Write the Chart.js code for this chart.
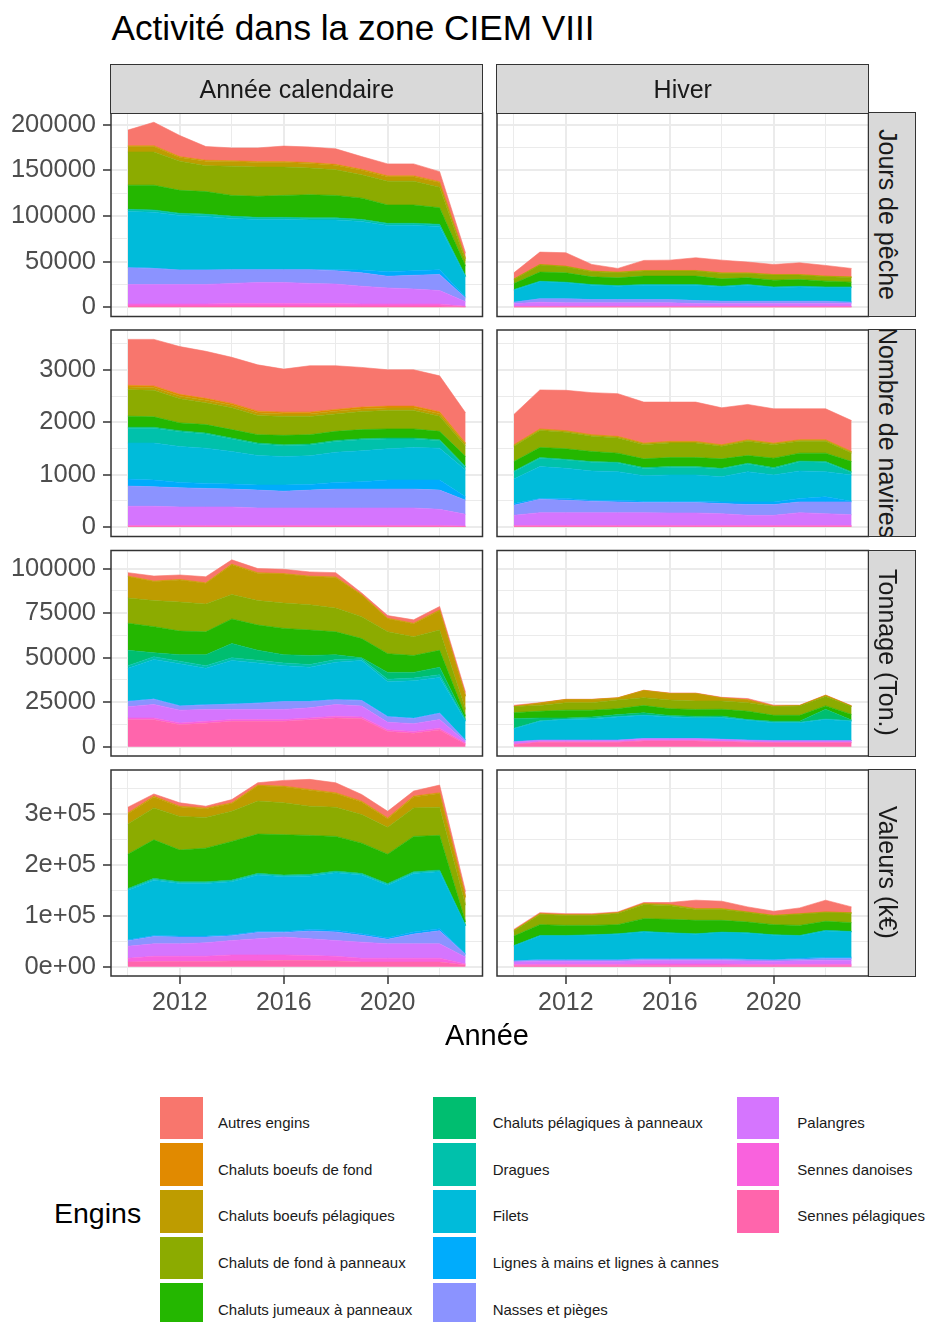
<!DOCTYPE html>
<html lang="fr">
<head>
<meta charset="utf-8">
<title>Activité dans la zone CIEM VIII</title>
<script src="https://cdn.jsdelivr.net/npm/chart.js@4.4.1/dist/chart.umd.min.js"></script>
<style>
  html, body { margin: 0; padding: 0; background: #fff; }
  body { width: 926px; height: 1322px; position: relative; overflow: hidden;
         font-family: "Liberation Sans", Arial, sans-serif; }
  .txt { position: absolute; white-space: nowrap; line-height: 1; }
  .strip { position: absolute; background: #d9d9d9; border: 1.5px solid #333; box-sizing: border-box; overflow: hidden; }
  .panel { position: absolute; }
  .key { position: absolute; width: 42.6px; height: 42.6px; }
</style>
</head>
<body>
<script>
Chart.defaults.font.family = '"Liberation Sans", Arial, sans-serif';

// ---- data ----
const annees = [2010, 2011, 2012, 2013, 2014, 2015, 2016, 2017, 2018, 2019, 2020, 2021, 2022, 2023];

const engins = [
  'Autres engins', 'Chaluts boeufs de fond', 'Chaluts boeufs pélagiques',
  'Chaluts de fond à panneaux', 'Chaluts jumeaux à panneaux', 'Chaluts pélagiques à panneaux',
  'Dragues', 'Filets', 'Lignes à mains et lignes à cannes', 'Nasses et pièges',
  'Palangres', 'Sennes danoises', 'Sennes pélagiques'
];
const couleurs = ['#F8766D', '#E18A00', '#BE9C00', '#8CAB00', '#24B700', '#00BE70', '#00C1AB',
                  '#00BBDA', '#00ACFC', '#8B93FF', '#D575FE', '#F962DD', '#FF65AC'];

const periodes = ['Année calendaire', 'Hiver'];
const indicateurs = ['Jours de pêche', 'Nombre de navires', 'Tonnage (Ton.)', 'Valeurs (k€)'];

// one row per engin, same order as `engins`
const joursCalendaire = [
  [17000, 25600, 23000, 15000, 14000, 15000, 17000, 17000, 17000, 14000, 13000, 13000, 11000, 5700],
  [1000, 1000, 1000, 1000, 1000, 1000, 1000, 1000, 1000, 1000, 1000, 1000, 1000, 500],
  [6000, 6000, 4000, 5000, 5000, 5000, 5000, 5000, 5000, 5000, 5000, 5000, 5000, 2000],
  [36300, 36300, 32000, 28300, 32000, 32000, 31000, 29300, 28000, 25500, 26000, 26000, 22500, 6000],
  [26400, 27100, 25000, 24700, 22700, 23000, 24000, 25200, 24500, 23200, 20000, 20000, 18000, 11000],
  [500, 500, 500, 500, 500, 500, 500, 500, 500, 500, 500, 500, 500, 300],
  [2000, 2000, 2000, 2000, 2000, 2000, 2000, 2000, 2000, 2000, 2000, 2000, 2000, 700],
  [61100, 61100, 59300, 58300, 55600, 54300, 54300, 53800, 54400, 53100, 50500, 49500, 47500, 22000],
  [500, 500, 500, 500, 500, 500, 500, 500, 1000, 3000, 5000, 5000, 5000, 1000],
  [18300, 17600, 15800, 15800, 15100, 14000, 14000, 15100, 14700, 14700, 12800, 15000, 17700, 4000],
  [21400, 21400, 21400, 21400, 22100, 23200, 23200, 22100, 21400, 19500, 17700, 16500, 14800, 5000],
  [2000, 2000, 2000, 2000, 2500, 2500, 2500, 2500, 2500, 2000, 2000, 2000, 2000, 500],
  [1500, 1500, 1500, 1500, 1500, 1500, 1500, 1500, 1500, 1500, 1500, 1500, 1500, 500]
];
const joursHiver = [
  [6600, 13500, 14700, 7300, 4000, 11000, 11300, 13900, 13900, 11800, 11000, 12800, 11700, 9200],
  [200, 200, 200, 200, 200, 200, 200, 200, 200, 200, 200, 200, 200, 200],
  [500, 500, 500, 500, 500, 500, 500, 500, 500, 500, 500, 500, 500, 500],
  [4400, 7700, 6600, 5600, 5600, 5500, 5500, 5500, 5900, 4800, 5500, 4800, 4800, 5100],
  [6600, 9900, 10200, 8400, 8400, 9200, 9200, 9200, 8000, 7300, 7400, 7300, 6300, 5200],
  [300, 300, 300, 300, 300, 300, 300, 300, 300, 300, 300, 300, 300, 300],
  [500, 500, 500, 500, 500, 500, 500, 500, 500, 500, 500, 500, 500, 500],
  [12800, 18300, 17200, 15400, 14300, 15400, 15400, 16500, 15400, 17200, 14600, 15400, 14600, 15700],
  [300, 300, 300, 300, 300, 300, 300, 300, 300, 300, 300, 300, 300, 300],
  [1500, 3700, 4400, 3600, 3600, 3600, 3600, 3300, 2600, 2600, 2600, 2600, 2600, 1500],
  [3000, 4500, 3800, 3800, 3800, 3800, 3800, 3000, 3000, 3000, 3000, 3000, 3000, 3000],
  [500, 500, 500, 500, 500, 500, 500, 500, 500, 500, 500, 500, 500, 500],
  [500, 500, 500, 500, 500, 500, 500, 500, 500, 500, 500, 500, 500, 500]
];
const naviresCalendaire = [
  [877, 889, 912, 899, 880, 884, 822, 886, 835, 758, 694, 694, 687, 578],
  [35, 35, 35, 35, 35, 35, 35, 35, 35, 35, 35, 35, 35, 20],
  [50, 50, 50, 50, 50, 50, 50, 50, 50, 50, 50, 50, 50, 40],
  [505, 506, 461, 416, 416, 365, 359, 346, 333, 345, 351, 351, 288, 197],
  [212, 199, 148, 161, 161, 160, 179, 179, 173, 174, 174, 174, 160, 193],
  [20, 20, 20, 20, 20, 20, 20, 20, 20, 20, 20, 20, 20, 10],
  [282, 282, 282, 269, 237, 218, 205, 205, 205, 211, 185, 160, 141, 54],
  [688, 707, 687, 674, 623, 565, 546, 546, 578, 591, 598, 623, 610, 514],
  [134, 128, 103, 96, 96, 96, 116, 109, 128, 141, 173, 173, 192, 64],
  [386, 373, 366, 354, 341, 341, 321, 341, 360, 360, 360, 360, 367, 270],
  [368, 368, 355, 355, 355, 336, 336, 336, 336, 336, 336, 336, 310, 224],
  [15, 15, 15, 15, 15, 15, 15, 15, 15, 15, 15, 15, 15, 10],
  [15, 15, 15, 15, 15, 15, 15, 15, 15, 15, 15, 15, 15, 10]
];
const naviresHiver = [
  [578, 745, 771, 803, 816, 783, 751, 751, 706, 674, 655, 591, 591, 591],
  [10, 10, 10, 10, 10, 10, 10, 10, 10, 10, 10, 10, 10, 10],
  [20, 20, 20, 20, 20, 20, 20, 20, 20, 20, 20, 20, 20, 20],
  [292, 324, 316, 291, 291, 272, 278, 278, 240, 272, 259, 227, 227, 163],
  [179, 192, 200, 193, 173, 167, 174, 174, 180, 148, 180, 148, 161, 192],
  [15, 15, 15, 15, 15, 15, 15, 15, 15, 15, 15, 15, 15, 15],
  [140, 159, 158, 164, 165, 139, 145, 145, 146, 145, 126, 177, 177, 49],
  [468, 610, 578, 559, 546, 488, 501, 501, 481, 578, 514, 527, 482, 501],
  [32, 13, 32, 19, 32, 26, 26, 26, 32, 52, 52, 64, 96, 13],
  [193, 257, 238, 219, 206, 193, 199, 199, 193, 205, 205, 206, 225, 244],
  [193, 244, 244, 244, 244, 244, 238, 238, 225, 193, 193, 244, 225, 206],
  [16, 16, 16, 16, 16, 16, 16, 16, 16, 16, 16, 16, 16, 16],
  [16, 16, 16, 16, 16, 16, 16, 16, 16, 16, 16, 16, 16, 16]
];
const tonnageCalendaire = [
  [1900, 2800, 2500, 3400, 2400, 2300, 2400, 2300, 2400, 900, 1500, 1900, 1900, 1900],
  [300, 300, 300, 300, 300, 300, 300, 300, 300, 300, 300, 300, 300, 300],
  [12000, 10700, 12400, 11600, 16800, 15400, 16300, 15800, 17200, 12100, 7300, 7300, 11000, 7300],
  [14200, 14600, 16300, 15600, 13700, 13700, 14200, 14200, 13300, 12300, 12300, 10500, 11400, 3800],
  [15200, 14700, 13300, 12900, 13800, 14200, 14800, 14300, 12900, 10800, 10500, 9500, 9500, 1900],
  [8600, 2200, 3600, 6100, 8000, 5600, 4600, 5100, 2700, 500, 3800, 3200, 4200, 700],
  [1500, 1500, 1500, 1500, 1500, 1500, 1500, 1500, 1500, 1000, 1500, 1500, 1500, 300],
  [18400, 22100, 23400, 20300, 24300, 22300, 19900, 19000, 20800, 22200, 19300, 20900, 19900, 10400],
  [300, 300, 300, 300, 300, 300, 300, 300, 300, 300, 300, 300, 300, 300],
  [2900, 2900, 2300, 2500, 2900, 3500, 4400, 3500, 2600, 3100, 3100, 2900, 3500, 700],
  [6300, 7600, 7200, 6700, 5700, 5700, 5700, 5700, 6600, 6100, 4200, 4400, 4800, 900],
  [1000, 1000, 1000, 1000, 1000, 1000, 1000, 1000, 1000, 1000, 1000, 1000, 1000, 500],
  [15100, 15100, 12300, 13200, 14200, 14200, 14200, 15100, 16100, 15700, 8500, 7500, 9400, 1400]
];
const tonnageHiver = [
  [600, 200, 100, 100, 100, 100, 200, 200, 300, 700, 500, 200, 200, 200],
  [100, 100, 100, 100, 100, 100, 100, 100, 100, 100, 100, 100, 100, 100],
  [0, 1300, 1700, 1700, 1100, 4000, 3600, 4200, 1600, 1500, 200, 100, 500, 200],
  [3400, 3200, 4200, 4200, 4900, 4400, 4900, 4700, 4700, 4800, 4900, 5300, 5300, 4400],
  [3400, 3800, 4400, 3800, 3300, 4100, 3800, 3800, 3800, 4700, 3300, 3300, 1900, 3200],
  [5400, 1600, 600, 800, 1000, 1200, 500, 700, 700, 100, 600, 600, 5400, 300],
  [300, 300, 300, 300, 300, 300, 300, 300, 300, 300, 300, 300, 300, 300],
  [7100, 10400, 11400, 11800, 12900, 12800, 12000, 11400, 11900, 11000, 9900, 9900, 11800, 10800],
  [100, 100, 100, 100, 100, 100, 100, 100, 100, 100, 100, 100, 100, 100],
  [200, 200, 200, 200, 200, 200, 200, 200, 200, 200, 200, 200, 200, 200],
  [1200, 800, 800, 800, 800, 1000, 1000, 1000, 1000, 800, 800, 800, 800, 800],
  [200, 200, 200, 200, 200, 200, 200, 200, 200, 200, 200, 200, 200, 200],
  [1200, 2500, 2500, 2500, 2500, 3200, 3200, 3200, 2800, 2500, 2200, 2200, 2200, 2200]
];
const valeursCalendaire = [
  [11200, 4200, 6600, 3300, 6400, 4500, 11200, 19700, 19600, 13100, 13000, 9900, 15100, 10000],
  [1500, 1500, 1500, 1500, 1500, 1500, 1500, 1500, 1500, 1500, 1500, 1500, 1500, 1500],
  [20300, 21600, 18500, 17200, 15100, 30000, 31400, 31500, 26900, 24900, 17000, 21600, 26900, 14900],
  [59200, 62700, 66000, 60400, 59200, 64700, 62600, 57300, 57300, 56000, 52700, 56000, 55300, 33000],
  [67300, 75700, 62300, 65900, 75800, 77100, 79000, 76500, 67900, 59300, 57400, 69200, 67900, 6600],
  [1500, 1500, 1500, 1500, 1500, 1500, 1500, 1500, 1500, 1500, 1500, 1500, 1500, 500],
  [2000, 2000, 2000, 2000, 2000, 2000, 2000, 2000, 2000, 2000, 2000, 2000, 2000, 500],
  [97300, 108500, 103200, 103200, 103900, 110500, 107300, 104600, 113100, 115100, 103200, 115100, 111800, 55000],
  [2000, 2000, 2000, 2000, 2000, 2000, 2000, 3000, 3000, 3000, 3000, 4000, 4000, 1000],
  [10500, 14500, 13200, 11200, 9200, 12500, 9200, 15400, 16800, 13500, 8900, 19100, 25700, 5500],
  [23700, 24400, 24400, 26400, 28400, 31700, 35000, 33000, 31000, 31600, 28300, 28300, 28300, 13200],
  [7500, 10400, 10400, 10400, 12000, 12000, 11000, 9700, 9400, 7500, 7500, 7500, 7500, 2300],
  [9000, 10000, 10000, 10000, 11000, 11000, 12000, 12000, 11000, 9000, 9000, 9000, 9000, 3000]
];
const valeursHiver = [
  [1900, 2000, 2000, 2000, 1400, 1900, 3900, 16500, 14500, 9900, 7900, 11300, 23100, 11300],
  [300, 300, 300, 300, 300, 300, 300, 300, 300, 300, 300, 300, 300, 300],
  [1000, 1500, 1500, 1500, 1500, 2000, 2000, 1500, 1500, 1000, 1000, 1000, 1000, 1000],
  [9900, 19800, 19200, 19200, 21800, 27500, 26800, 21300, 21300, 18500, 17100, 21700, 17100, 18400],
  [18500, 21100, 19700, 18400, 17800, 25000, 26300, 26300, 23000, 21000, 19800, 19700, 17800, 17100],
  [500, 500, 500, 500, 500, 500, 500, 500, 500, 500, 500, 500, 500, 500],
  [500, 500, 500, 500, 500, 500, 500, 500, 500, 500, 500, 500, 500, 500],
  [28600, 46500, 46500, 47800, 49800, 51700, 49100, 47100, 50400, 50400, 47800, 43800, 51700, 49700],
  [900, 1000, 1000, 1000, 1000, 2000, 2000, 2000, 2000, 1500, 1000, 2000, 2500, 2500],
  [2000, 2300, 2300, 2300, 2300, 2500, 2500, 2500, 2500, 2700, 2300, 3000, 3500, 3500],
  [5000, 6000, 6000, 6000, 6000, 7000, 7000, 7000, 7000, 6500, 6000, 7000, 8000, 8000],
  [2500, 3000, 3000, 3000, 3000, 3500, 3500, 3500, 3500, 3000, 3000, 3000, 3000, 3000],
  [1500, 1500, 1500, 1500, 1500, 1500, 1500, 1500, 1500, 1500, 1500, 1500, 1500, 1500]
];

const yMajeurs = [[0, 50000, 100000, 150000, 200000], [0, 1000, 2000, 3000],
                  [0, 25000, 50000, 75000, 100000], [0, 100000, 200000, 300000]];
const yMineurs = [[25000, 75000, 125000, 175000], [500, 1500, 2500, 3500],
                  [12500, 37500, 62500, 87500], [50000, 150000, 250000, 350000]];
const yEtiquettes = [['0', '50000', '100000', '150000', '200000'], ['0', '1000', '2000', '3000'],
                     ['0', '25000', '50000', '75000', '100000'], ['0e+00', '1e+05', '2e+05', '3e+05']];
const xMajeurs = [2012, 2016, 2020];
const xMineurs = [2010, 2014, 2018, 2022];

const grille = [
  [joursCalendaire, joursHiver],
  [naviresCalendaire, naviresHiver],
  [tonnageCalendaire, tonnageHiver],
  [valeursCalendaire, valeursHiver]
];

// ---- layout (page pixels) ----
const colonnes = [[111, 482.5], [497, 868.5]];
const lignes = [[113, 316.5], [330, 536.5], [550.5, 756], [770, 976]];
const BASE = 0.8465; // baseline position for line-height 1

function texte(parent, str, x, baseline, fs, align, color) {
  const d = document.createElement('div');
  d.className = 'txt';
  d.textContent = str;
  d.style.fontSize = fs + 'px';
  d.style.top = (baseline - BASE * fs) + 'px';
  d.style.color = color || '#000';
  if (align === 'center') {
    d.style.left = (x - 200) + 'px';
    d.style.width = '400px';
    d.style.textAlign = 'center';
  } else {
    d.style.left = x + 'px';
  }
  parent.appendChild(d);
  return d;
}

// draws the panel frame on top of the areas
const cadre = {
  id: 'cadre',
  afterDraw(chart) {
    const { ctx, chartArea: a } = chart;
    ctx.save();
    ctx.strokeStyle = '#333333';
    ctx.lineWidth = 1.5;
    ctx.strokeRect(a.left, a.top, a.right - a.left, a.bottom - a.top);
    ctx.restore();
  }
};

function creerPanneau(valeurs, r, c, yMin, yMax) {
  const [L, R] = colonnes[c];
  const [T, B] = lignes[r];
  const basAxe = r === lignes.length - 1;
  const gaucheAxe = c === 0;
  const hx = basAxe ? 60 : 0;

  const cl = gaucheAxe ? 0 : Math.floor(L) - 4;
  const cr = Math.ceil(R) + 4;
  const ct = Math.floor(T) - 4;
  const cb = Math.ceil(B) + (basAxe ? hx : 4);
  const W = cr - cl, H = cb - ct;

  const div = document.createElement('div');
  div.className = 'panel';
  Object.assign(div.style, { left: cl + 'px', top: ct + 'px', width: W + 'px', height: H + 'px' });
  const cv = document.createElement('canvas');
  cv.width = W; cv.height = H;
  cv.style.width = W + 'px'; cv.style.height = H + 'px';
  div.appendChild(cv);
  document.body.appendChild(div);

  // ggplot stacks the first level on top, so build from the last engin upwards
  const ordre = engins.map((_, i) => i).reverse();
  const datasets = ordre.map((i, k) => ({
    label: engins[i],
    data: annees.map((a, j) => ({ x: a, y: valeurs[i][j] })),
    backgroundColor: couleurs[i],
    borderColor: couleurs[i],
    borderWidth: 0.6,
    pointRadius: 0,
    tension: 0,
    fill: k === 0 ? 'origin' : '-1'
  }));

  const yTicks = [...yMajeurs[r], ...yMineurs[r]].filter(v => v >= yMin && v <= yMax).sort((a, b) => a - b);
  const xTicks = [...xMajeurs, ...xMineurs].sort((a, b) => a - b);
  const majY = v => yMajeurs[r].includes(v);
  const majX = v => xMajeurs.includes(v);

  new Chart(cv, {
    type: 'line',
    data: { datasets },
    options: {
      responsive: false,
      animation: false,
      events: [],
      layout: {
        padding: {
          left: gaucheAxe ? 0 : L - cl,
          right: cr - R,
          top: T - ct,
          bottom: basAxe ? cb - B - hx : cb - B
        }
      },
      plugins: { legend: { display: false }, tooltip: { enabled: false } },
      scales: {
        x: {
          type: 'linear',
          min: 2009.35,
          max: 2023.65,
          border: { display: false },
          afterBuildTicks: s => { s.ticks = xTicks.map(v => ({ value: v })); },
          afterFit: s => { s.height = hx; s.paddingLeft = 0; s.paddingRight = 0; s.paddingTop = 0; s.paddingBottom = 0; },
          grid: {
            color: '#EBEBEB',
            lineWidth: ctx => (ctx.tick && majX(ctx.tick.value)) ? 2 : 1,
            drawTicks: basAxe,
            tickLength: 8,
            tickWidth: 1.5,
            tickColor: ctx => (ctx.tick && majX(ctx.tick.value)) ? '#333333' : 'rgba(0,0,0,0)'
          },
          ticks: {
            display: basAxe,
            autoSkip: false,
            maxRotation: 0,
            minRotation: 0,
            padding: 4,
            color: '#4D4D4D',
            font: { size: 25 },
            callback: v => majX(v) ? String(v) : ''
          }
        },
        y: {
          type: 'linear',
          stacked: true,
          min: yMin,
          max: yMax,
          border: { display: false },
          afterBuildTicks: s => { s.ticks = yTicks.map(v => ({ value: v })); },
          afterFit: s => { s.width = gaucheAxe ? L : 0; s.paddingLeft = 0; s.paddingRight = 0; s.paddingTop = 0; s.paddingBottom = 0; },
          grid: {
            color: '#EBEBEB',
            lineWidth: ctx => (ctx.tick && majY(ctx.tick.value)) ? 2 : 1,
            drawTicks: gaucheAxe,
            tickLength: 8,
            tickWidth: 1.5,
            tickColor: ctx => (ctx.tick && majY(ctx.tick.value)) ? '#333333' : 'rgba(0,0,0,0)'
          },
          ticks: {
            display: gaucheAxe,
            autoSkip: false,
            padding: 7,
            color: '#4D4D4D',
            font: { size: 25.5 },
            callback: v => {
              const k = yMajeurs[r].indexOf(v);
              return k >= 0 ? yEtiquettes[r][k] : '';
            }
          }
        }
      }
    },
    plugins: [cadre]
  });
}

// panels, one y range per row (shared by both columns, as facet_grid free_y)
grille.forEach((ligne, r) => {
  let M = 0;
  ligne.forEach(valeurs => {
    annees.forEach((_, j) => {
      M = Math.max(M, valeurs.reduce((s, serie) => s + serie[j], 0));
    });
  });
  ligne.forEach((valeurs, c) => creerPanneau(valeurs, r, c, -0.05 * M, 1.05 * M));
});

// title
texte(document.body, 'Activité dans la zone CIEM VIII', 111.5, 40, 35.2);

// top strips
colonnes.forEach(([L, R], c) => {
  const s = document.createElement('div');
  s.className = 'strip';
  Object.assign(s.style, { left: (L - 0.75) + 'px', top: '63.5px', width: (R - L + 1.5) + 'px', height: (lignes[0][0] - 63.5 + 0.75) + 'px' });
  document.body.appendChild(s);
  texte(document.body, periodes[c], (L + R) / 2, 98.3, 25, 'center', '#1A1A1A');
});

// right strips
lignes.forEach(([T, B], r) => {
  const left = colonnes[1][1] - 0.75;
  const s = document.createElement('div');
  s.className = 'strip';
  Object.assign(s.style, { left: left + 'px', top: (T - 0.75) + 'px', width: (916 - left) + 'px', height: (B - T + 1.5) + 'px' });
  const t = document.createElement('div');
  t.className = 'txt';
  t.textContent = indicateurs[r];
  const fs = 25, w = 260;
  Object.assign(t.style, {
    fontSize: fs + 'px', width: w + 'px', height: fs + 'px', textAlign: 'center', color: '#1A1A1A',
    left: (887 - left - 1.5 - w / 2) + 'px',
    top: ((B - T) / 2 + 0.75 - 1.5 - fs / 2) + 'px',
    transform: 'rotate(90deg)'
  });
  s.appendChild(t);
  document.body.appendChild(s);
});

// x axis title
texte(document.body, 'Année', 487, 1046, 29, 'center');

// legend
texte(document.body, 'Engins', 54, 1223.3, 28.5);
const cleX = [160, 433.3, 736.7];
const etiqX = [218, 492.7, 797.3];
engins.forEach((nom, i) => {
  const col = Math.floor(i / 5), row = i % 5;
  const top = 1096.7 + row * 46.65;
  const k = document.createElement('div');
  k.className = 'key';
  Object.assign(k.style, { left: cleX[col] + 'px', top: top + 'px', background: couleurs[i] });
  document.body.appendChild(k);
  texte(document.body, nom, etiqX[col], top + 31, 15, null, '#1A1A1A');
});
</script>
</body>
</html>
